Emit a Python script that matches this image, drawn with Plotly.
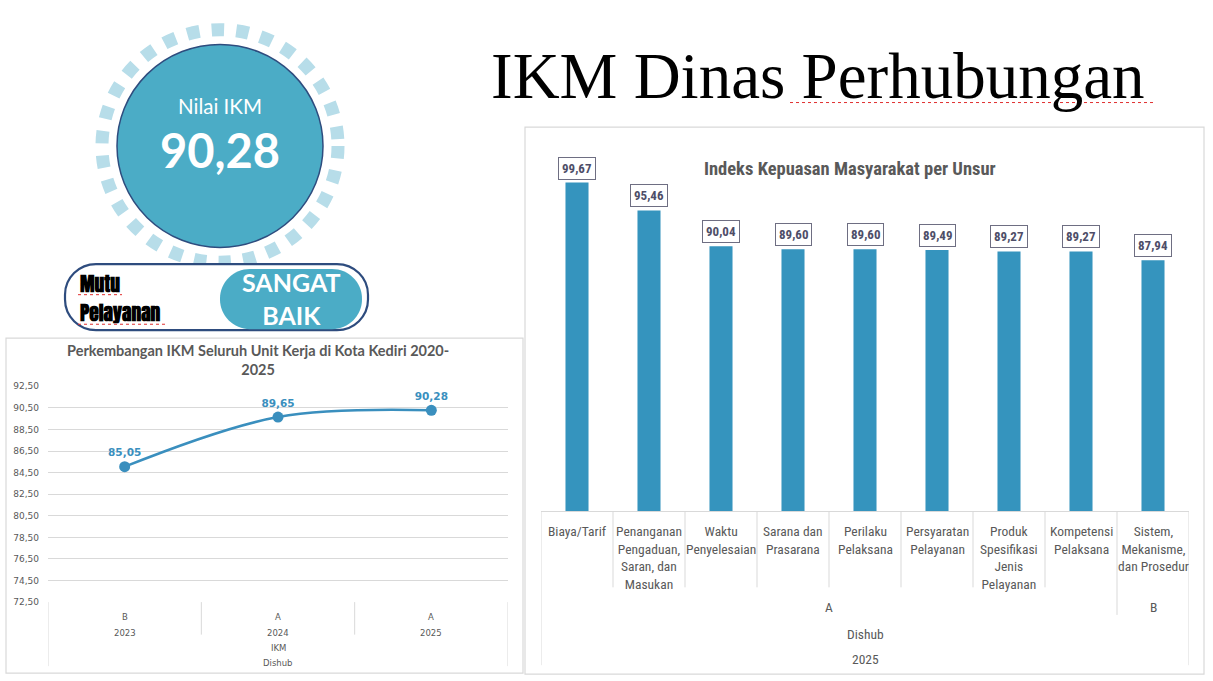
import plotly.graph_objects as go

W, H = 1213, 681

# ---------------- data ----------------
nilai_ikm = 90.28
mutu_label = "SANGAT<br>BAIK"

years = ["2023", "2024", "2025"]
year_grades = ["B", "A", "A"]
ikm_values = [85.05, 89.65, 90.28]
line_ticks = [72.5, 74.5, 76.5, 78.5, 80.5, 82.5, 84.5, 86.5, 88.5, 90.5, 92.5]

unsur = [
    "Biaya/Tarif",
    "Penanganan<br>Pengaduan,<br>Saran, dan<br>Masukan",
    "Waktu<br>Penyelesaian",
    "Sarana dan<br>Prasarana",
    "Perilaku<br>Pelaksana",
    "Persyaratan<br>Pelayanan",
    "Produk<br>Spesifikasi<br>Jenis<br>Pelayanan",
    "Kompetensi<br>Pelaksana",
    "Sistem,<br>Mekanisme,<br>dan Prosedur",
]
unsur_values = [99.67, 95.46, 90.04, 89.60, 89.60, 89.49, 89.27, 89.27, 87.94]
unsur_grades = ["A", "A", "A", "A", "A", "A", "A", "A", "B"]

# ---------------- styles ----------------
TEAL = "#4BACC6"
RING = "#B7DDE9"
NAVY = "#2E4C7E"
LINE_C = "#3A8FBE"
BAR_C = "#3594BE"
GRID = "#D9D9D9"
GREY = "#595959"
COND = "Liberation Sans Narrow, Roboto Condensed, DejaVu Sans Condensed, Arial Narrow, sans-serif"
WIDE = "DejaVu Sans, Verdana, sans-serif"


def px(x):
    return x / W


def py(y):
    return 1 - y / H


def fmt(v):
    return f"{v:.2f}".replace(".", ",")


def rrect_path(x0, y0, x1, y1, r):
    k = 0.5523 * r
    pts = [
        ("M", [(x0 + r, y0)]),
        ("L", [(x1 - r, y0)]),
        ("C", [(x1 - r + k, y0), (x1, y0 + r - k), (x1, y0 + r)]),
        ("L", [(x1, y1 - r)]),
        ("C", [(x1, y1 - r + k), (x1 - r + k, y1), (x1 - r, y1)]),
        ("L", [(x0 + r, y1)]),
        ("C", [(x0 + r - k, y1), (x0, y1 - r + k), (x0, y1 - r)]),
        ("L", [(x0, y0 + r)]),
        ("C", [(x0, y0 + r - k), (x0 + r - k, y0), (x0 + r, y0)]),
    ]
    s = ""
    for cmd, pl in pts:
        s += cmd + " " + " ".join(f"{px(a):.5f},{py(b):.5f}" for a, b in pl) + " "
    return s + "Z"


def note(x, y, text, font, xref="paper", yref="paper", xanchor="center", yanchor="middle", **kw):
    d = dict(x=x, y=y, xref=xref, yref=yref, text=text, showarrow=False, xanchor=xanchor,
             yanchor=yanchor, font=font)
    d.update(kw)
    return d


fig = go.Figure()

# ---------------- line chart ----------------
fig.add_trace(go.Scatter(
    x=years, y=ikm_values, mode="lines+markers+text",
    line=dict(color=LINE_C, width=2.5, shape="spline", smoothing=1.0),
    marker=dict(color=LINE_C, size=11),
    text=[fmt(v) for v in ikm_values], textposition="top center",
    textfont=dict(family=WIDE, size=10.5, color=LINE_C, weight="bold"),
    xaxis="x", yaxis="y", cliponaxis=False, showlegend=False, hoverinfo="skip",
))

# ---------------- bar chart ----------------
fig.add_trace(go.Bar(
    x=unsur, y=unsur_values, width=0.32, marker=dict(color=BAR_C, line=dict(width=0)),
    xaxis="x2", yaxis="y2", showlegend=False, hoverinfo="skip",
))

shapes = []
ann = []

# panels
shapes.append(dict(type="rect", xref="paper", yref="paper", x0=px(6), x1=px(523), y0=py(678), y1=py(338),
                   line=dict(color=GRID, width=1.2), layer="below"))
shapes.append(dict(type="rect", xref="paper", yref="paper", x0=px(525), x1=px(1204), y0=py(679), y1=py(124),
                   line=dict(color=GRID, width=1.2), layer="below"))

# ring + circle
rr = 118
shapes.append(dict(type="circle", xref="paper", yref="paper", x0=px(220 - rr), x1=px(220 + rr),
                   y0=py(143 + rr), y1=py(143 - rr), line=dict(color=RING, width=13, dash="12.5px,12.2px")))
shapes.append(dict(type="circle", xref="paper", yref="paper", x0=px(117), x1=px(323), y0=py(246), y1=py(40),
                   fillcolor=TEAL, line=dict(color=NAVY, width=1.5)))
ann.append(note(px(220), py(103), "Nilai IKM", dict(family="Lato, Open Sans", size=20.5, color="white")))
ann.append(note(px(220), py(147), fmt(nilai_ikm),
                dict(family="Lato, Open Sans", size=47, color="white", weight="bold")))

# mutu box
shapes.append(dict(type="path", xref="paper", yref="paper", path=rrect_path(65, 263, 368, 330, 31),
                   line=dict(color=NAVY, width=2.2), fillcolor="white"))
shapes.append(dict(type="path", xref="paper", yref="paper", path=rrect_path(220, 268, 362, 329, 30),
                   line=dict(width=0), fillcolor=TEAL))
mfont = dict(family="Impact, Anton, Oswald, " + COND, size=19.5, color="black", weight="bold")
ann.append(note(px(78), py(283), "Mutu", mfont, xanchor="left"))
ann.append(note(px(78), py(312), "Pelayanan", mfont, xanchor="left"))
ann.append(note(px(291), py(298), mutu_label, dict(family="Lato, Open Sans", size=25, color="white", weight="bold")))
for (a, b, yy) in [(78, 122, 294), (78, 166, 324), (790, 1153, 99)]:
    shapes.append(dict(type="line", xref="paper", yref="paper", x0=px(a), x1=px(b), y0=py(yy), y1=py(yy),
                       line=dict(color="#E03030", width=1, dash="dot")))

# main title
ann.append(note(px(818), py(72), "IKM Dinas Perhubungan",
                dict(family="Liberation Serif, DejaVu Serif, serif", size=65, color="black")))

# line chart title
ann.append(note(px(258), py(360), "Perkembangan IKM Seluruh Unit Kerja di Kota Kediri 2020-<br>2025",
                dict(family="Lato, DejaVu Sans", size=14.5, color=GREY, weight="bold")))

# line chart category axis box
nY = len(years)
for i in range(nY + 1):
    xb = i - 0.5
    outer = i == 0 or i == nY
    shapes.append(dict(type="line", xref="x", yref="paper", x0=xb, x1=xb, y0=py(606),
                       y1=py(671 if outer else 639), line=dict(color=GRID, width=1)))
small = dict(family=WIDE, size=8.5, color=GREY)
for i, (yr, g) in enumerate(zip(years, year_grades)):
    ann.append(note(i, py(621), g, small, xref="x"))
    ann.append(note(i, py(637), yr, small, xref="x"))
ann.append(note((nY - 1) / 2, py(653), "IKM", small, xref="x"))
ann.append(note((nY - 1) / 2, py(668), "Dishub", small, xref="x"))

# bar chart title
ann.append(note(px(850), py(166), "Indeks Kepuasan Masyarakat per Unsur",
                dict(family=COND, size=18.5, color=GREY, weight="bold")))

# bar data labels
for u, v in zip(unsur, unsur_values):
    ann.append(note(u, v, fmt(v), dict(family=COND, size=13, color="#4E4E68", weight="bold"),
                    xref="x2", yref="y2", yanchor="bottom", yshift=3,
                    bgcolor="white", bordercolor="#6E6E82", borderwidth=1, borderpad=3))

# bar category axis box
nU = len(unsur)
for i in range(nU + 1):
    xb = i - 0.5
    if i == 0 or i == nU:
        yend = 670
    elif unsur_grades[i] != unsur_grades[i - 1]:
        yend = 619
    else:
        yend = 591
    shapes.append(dict(type="line", xref="x2", yref="paper", x0=xb, x1=xb, y0=py(514), y1=py(yend),
                       line=dict(color=GRID, width=1)))
catf = dict(family=COND, size=13.5, color=GREY)
for i, u in enumerate(unsur):
    ann.append(note(i, py(524), u, catf, xref="x2", yanchor="top"))
start = 0
for i in range(1, nU + 1):
    if i == nU or unsur_grades[i] != unsur_grades[start]:
        ann.append(note((start + i - 1) / 2, py(611), unsur_grades[start], catf, xref="x2"))
        start = i
ann.append(note((nU - 1) / 2, py(638), "Dishub", catf, xref="x2"))
ann.append(note((nU - 1) / 2, py(664), "2025", catf, xref="x2"))

bar_top_px = 140
fig.update_layout(
    width=W, height=H, margin=dict(l=0, r=0, t=0, b=0),
    paper_bgcolor="white", plot_bgcolor="rgba(0,0,0,0)",
    separators=",.",
    shapes=shapes, annotations=ann,
    xaxis=dict(domain=[px(48), px(508)], anchor="y", type="category", range=[-0.5, 2.5],
               showticklabels=False, showgrid=False, zeroline=False, showline=False, ticks=""),
    yaxis=dict(domain=[py(606), py(387)], anchor="x", range=[72.5, 92.5], tickvals=line_ticks,
               tickformat=".2f", showgrid=True, gridcolor=GRID, gridwidth=1, zeroline=False, showline=False,
               ticks="", tickfont=dict(family=WIDE, size=9, color=GREY), ticklabelstandoff=8),
    xaxis2=dict(domain=[px(541), px(1189)], anchor="y2", type="category", range=[-0.5, nU - 0.5],
                showticklabels=False, showgrid=False, zeroline=False, showline=True, linecolor=GRID,
                linewidth=1, ticks=""),
    yaxis2=dict(domain=[py(514), py(bar_top_px)], anchor="x2", range=[50, 50 + (514 - bar_top_px) / 6.72],
                visible=False),
)

fig.write_html("out.html")
